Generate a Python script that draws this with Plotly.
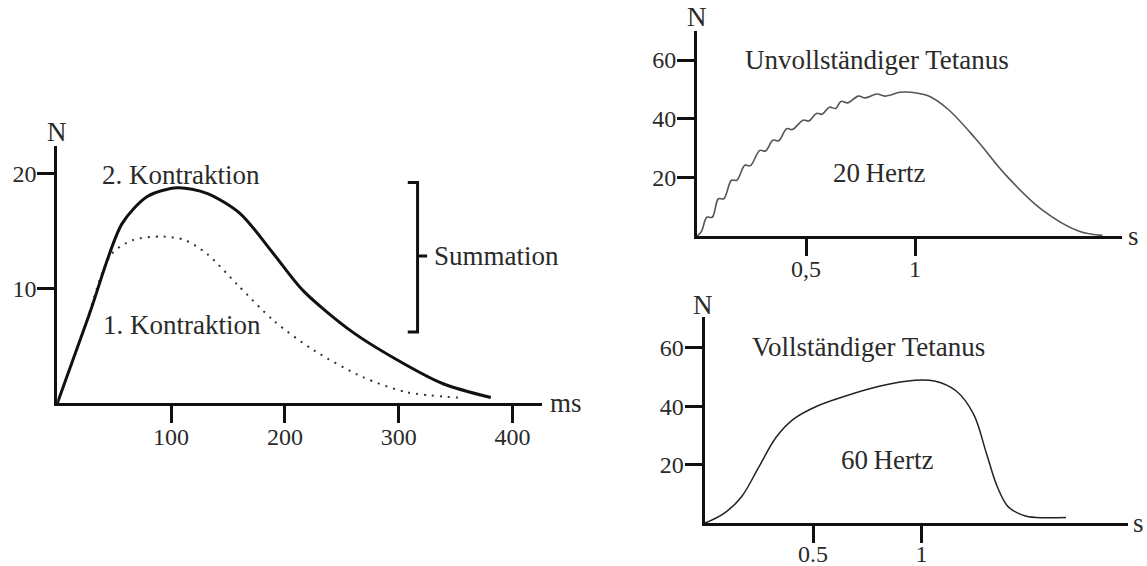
import plotly.graph_objects as go

W, H = 1147, 566

# ---------------- data ----------------
# Left panel: twitch summation (ms, N)
k2_ms = [0, 28, 56.8, 79.5, 105.5, 131.5, 160.7, 190, 216, 258, 300, 339, 381]
k2_N = [0, 7.7, 15.6, 18.0, 18.75, 18.26, 16.5, 13.0, 9.8, 6.3, 3.7, 1.7, 0.5]
k1_ms = [0, 23.5, 47, 66.5, 92.5, 112, 131.5, 157.5, 190, 225.6, 268, 307, 352]
k1_N = [0, 6.45, 12.9, 14.2, 14.5, 14.2, 13.0, 10.4, 7.2, 4.6, 2.3, 0.96, 0.5]
left_xticks = [100, 200, 300, 400]
left_yticks = [10, 20]
summation_span = [6.2, 19.2]   # N range covered by bracket
summation_mid = 12.8

# Top right: incomplete tetanus, 20 Hz (s, N) - wavy summation of twitches
t20 = [0, 0.020, 0.045, 0.070, 0.098, 0.123, 0.158, 0.183, 0.219, 0.245,
       0.288, 0.314, 0.349, 0.375, 0.411, 0.437, 0.487, 0.513, 0.548, 0.574,
       0.607, 0.637, 0.660, 0.692, 0.740, 0.772, 0.825, 0.862, 0.930, 0.960,
       1.06, 1.15, 1.28, 1.42, 1.58, 1.75, 1.86]
n20 = [0, 1.5, 6.4, 6.4, 12.7, 12.7, 19.0, 19.0, 24.1, 24.0,
       29.2, 29.0, 32.7, 32.5, 36.6, 36.3, 39.5, 39.2, 41.8, 41.5,
       43.9, 43.5, 45.9, 45.4, 47.7, 47.1, 48.4, 47.7, 49.0, 49.1,
       47.8, 43.3, 33.0, 20.5, 9.1, 1.7, 0.2]
top_xticks = [0.5, 1]
top_xticktext = ["0,5", "1"]

# Bottom right: complete tetanus, 60 Hz (s, N)
t60 = [0, 0.09, 0.17, 0.25, 0.33, 0.41, 0.52, 0.65, 0.81, 0.97, 1.06, 1.16,
       1.24, 1.30, 1.35, 1.40, 1.48, 1.57, 1.666]
n60 = [0, 3.4, 9.0, 19.2, 29.4, 35.6, 40.1, 43.5, 46.9, 48.9, 48.6, 45.2,
       37.3, 23.7, 12.4, 5.6, 2.5, 1.9, 2.0]
bot_xticks = [0.5, 1]
bot_xticktext = ["0.5", "1"]
right_yticks = [20, 40, 60]

# ---------------- style ----------------
FONT = "Liberation Serif"
TXT = "#2a2a2a"
AX = "#111111"
TICKFONT = dict(family=FONT, size=24, color=TXT)
LBLFONT = dict(family=FONT, size=27, color=TXT)


def px(x):
    return x / W


def py(y):
    return 1 - y / H


fig = go.Figure()

# left panel
fig.add_trace(go.Scatter(x=k1_ms, y=k1_N, mode="lines", xaxis="x", yaxis="y",
                         line=dict(color="#333333", width=2, dash="2px,6px",
                                   shape="spline", smoothing=0.8),
                         hoverinfo="skip"))
fig.add_trace(go.Scatter(x=k2_ms, y=k2_N, mode="lines", xaxis="x", yaxis="y",
                         line=dict(color="#111111", width=3, shape="spline", smoothing=0.8),
                         hoverinfo="skip"))
bx_in, bx_line, bx_out = 308, 316.6, 325
fig.add_trace(go.Scatter(
    x=[bx_in, bx_line, bx_line, bx_in, None, bx_line, bx_out],
    y=[summation_span[1], summation_span[1], summation_span[0], summation_span[0], None,
       summation_mid, summation_mid],
    mode="lines", xaxis="x", yaxis="y", line=dict(color=AX, width=3),
    hoverinfo="skip"))

# top right
fig.add_trace(go.Scatter(x=t20, y=n20, mode="lines", xaxis="x2", yaxis="y2",
                         line=dict(color="#555555", width=1.6, shape="spline", smoothing=1.0),
                         hoverinfo="skip"))
# bottom right
fig.add_trace(go.Scatter(x=t60, y=n60, mode="lines", xaxis="x3", yaxis="y3",
                         line=dict(color="#222222", width=1.5, shape="spline", smoothing=1.0),
                         hoverinfo="skip"))

axis_common = dict(showgrid=False, zeroline=False, showline=True, linecolor=AX,
                   linewidth=3, ticks="outside", ticklen=17, tickwidth=3,
                   tickcolor=AX, tickfont=TICKFONT, fixedrange=True, automargin=False)

fig.update_layout(
    width=W, height=H,
    margin=dict(l=0, r=0, t=0, b=0, pad=0),
    paper_bgcolor="white", plot_bgcolor="white",
    showlegend=False,
    xaxis=dict(axis_common, domain=[px(57.3), px(541.7)], range=[0, 425.7],
               anchor="y", tickvals=left_xticks, ticklabelstandoff=-7),
    yaxis=dict(axis_common, domain=[py(403.3), py(145.7)], range=[0, 22.4],
               anchor="x", tickvals=left_yticks, ticklabelstandoff=-4),
    xaxis2=dict(axis_common, domain=[px(697), px(1121.7)], range=[0, 1.948],
                anchor="y2", tickvals=top_xticks, ticktext=top_xticktext,
                ticklabelstandoff=-8),
    yaxis2=dict(axis_common, domain=[py(236), py(30.7)], range=[0, 70.0],
                anchor="x2", tickvals=right_yticks, ticklabelstandoff=-4),
    xaxis3=dict(axis_common, domain=[px(704.5), px(1128.3)], range=[0, 1.953],
                anchor="y3", tickvals=bot_xticks, ticktext=bot_xticktext,
                ticklabelstandoff=-10),
    yaxis3=dict(axis_common, domain=[py(523.3), py(316.7)], range=[0, 70.6],
                anchor="x3", tickvals=right_yticks, ticklabelstandoff=-4),
)

ann = []


def add_text(text, x, y, xref="paper", yref="paper", xanchor="center", yanchor="middle", font=LBLFONT):
    ann.append(dict(text=text, x=x, y=y, xref=xref, yref=yref, xanchor=xanchor,
                    yanchor=yanchor, showarrow=False, font=font))


# left panel labels
add_text("2. Kontraktion", 109, 19.85, "x", "y")
add_text("1. Kontraktion", 109.6, 6.8, "x", "y")
add_text("Summation", 329.5, 12.8, "x", "y", xanchor="left")
add_text("N", px(56.7), py(131.7))
add_text("ms", px(548), py(402.7), xanchor="left")

# top right labels
add_text("N", px(696.7), py(16.7))
add_text("s", px(1133), py(236))
add_text("Unvollständiger Tetanus", 0.212, 60.0, "x2", "y2", xanchor="left")
add_text("20\u2009Hertz", 0.834, 21.6, "x2", "y2")

# bottom right labels
add_text("N", px(703.3), py(305))
add_text("s", px(1138.5), py(523))
add_text("Vollständiger Tetanus", 0.21, 60.3, "x3", "y3", xanchor="left")
add_text("60\u2009Hertz", 0.843, 21.6, "x3", "y3")

fig.update_layout(annotations=ann)

fig.write_html("out.html", config={"displayModeBar": False})
